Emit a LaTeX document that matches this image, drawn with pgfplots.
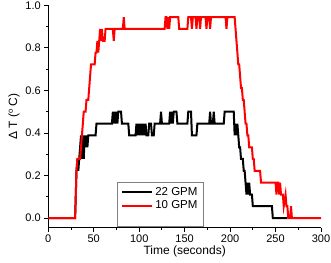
\documentclass[border=0pt]{standalone}
\usepackage{pgfplots}
\pgfplotsset{compat=1.18}
\usepackage{fontspec}
\setmainfont{Liberation Sans}
\begin{document}
\begin{tikzpicture}
\begin{axis}[
  scale only axis,
  width=272.7pt, height=222.4pt,
  xmin=0, xmax=300, ymin=-0.045, ymax=1.0,
  axis x line=bottom, axis y line=left,
  axis line style={-, line width=1pt},
  tick align=outside,
  major tick length=4pt, minor tick length=2.2pt,
  every tick/.style={black, line width=0.9pt},
  xtick={0,50,...,300}, minor x tick num=1,
  ytick={0,0.2,0.4,0.6,0.8,1.0}, minor y tick num=1,
  /pgf/number format/assume math mode=true,
  yticklabel style={/pgf/number format/.cd, fixed, fixed zerofill, precision=1},
  ticklabel style={font=\fontsize{11}{13}\selectfont},
  xlabel={Time (seconds)},
  ylabel={Δ T (\raisebox{0.35em}{\fontsize{7.5}{8}\selectfont o} C)},
  label style={font=\fontsize{12}{14}\selectfont},
  xlabel style={yshift=4pt},
  ylabel style={yshift=-1pt},
  legend style={at={(rel axis cs:0.252,0.2055)}, anchor=north west,
    draw=gray, line width=0.6pt, font=\fontsize{11.5}{13}\selectfont,
    row sep=0pt, inner xsep=4pt, inner ysep=3pt},
  legend cell align=left,
  legend image code/.code={\draw[#1] (0pt,0pt) -- (30pt,0pt);},
]
\addplot[black, line width=2pt] coordinates {
(0,0) (29.5,0) (31,0.222) (32,0.278) (33,0.222) (34,0.278) (35,0.333) (36,0.389) (37,0.278) (38,0.389) (39,0.278) (40,0.389) (41,0.333) (42,0.389) (43,0.333) (44,0.389) (52,0.389) (53,0.444) (70,0.444) (71,0.5) (72,0.444) (73,0.5) (74,0.444) (75,0.5) (76,0.444) (77,0.5) (80,0.5) (81,0.444) (88,0.444) (89,0.389) (96,0.389) (97,0.444) (98,0.389) (99,0.444) (100,0.389) (101,0.444) (102,0.389) (103,0.444) (104,0.389) (105,0.444) (106,0.389) (107,0.444) (108,0.389) (110,0.389) (111,0.444) (113,0.444) (114,0.389) (116,0.389) (117,0.444) (123,0.444) (124,0.5) (125,0.444) (133,0.444) (134,0.5) (135,0.444) (136,0.5) (137,0.444) (138,0.5) (141,0.5) (142,0.444) (153,0.444) (154,0.5) (157,0.5) (158,0.389) (163,0.389) (164,0.444) (177,0.444) (178,0.5) (179,0.444) (181,0.444) (182,0.5) (183,0.444) (193,0.444) (194,0.5) (204,0.5) (205,0.389) (206,0.444) (207,0.389) (208,0.444) (209,0.389) (210,0.333) (211,0.333) (212,0.278) (214,0.278) (215,0.222) (216,0.222) (217,0.167) (218,0.111) (219,0.167) (220,0.111) (221,0.167) (222,0.111) (224,0.111) (225,0.056) (246,0.056) (247,0) (263,0)
};
\addlegendentry{22 GPM}
\addplot[red, line width=2pt] coordinates {
(0,0) (29.5,0) (31,0.222) (32,0.278) (35,0.278) (36,0.333) (37,0.389) (38,0.444) (39,0.5) (41,0.5) (42,0.556) (44,0.556) (45,0.611) (46,0.667) (47,0.722) (51,0.722) (52,0.778) (53,0.778) (54,0.833) (55,0.778) (56,0.833) (57,0.889) (58,0.833) (59,0.889) (60,0.833) (62,0.833) (63,0.889) (71,0.889) (72,0.833) (73,0.889) (82,0.889) (83,0.944) (84,0.889) (128,0.889) (129,0.944) (130,0.944) (131,0.889) (132,0.944) (133,0.889) (134,0.944) (143,0.944) (144,0.889) (153,0.889) (154,0.944) (157,0.944) (158,0.889) (159,0.944) (162,0.944) (163,0.889) (164,0.944) (166,0.944) (167,0.889) (168,0.944) (173,0.944) (174,0.889) (175,0.944) (177,0.944) (178,0.889) (179,0.944) (195,0.944) (196,0.889) (197,0.944) (205,0.944) (206,0.889) (207,0.833) (208,0.778) (209,0.722) (210,0.722) (211,0.667) (212,0.611) (213,0.611) (214,0.556) (215,0.556) (216,0.5) (217,0.444) (218,0.444) (219,0.389) (220,0.389) (221,0.333) (224,0.333) (225,0.278) (226,0.278) (227,0.222) (233,0.222) (234,0.167) (250,0.167) (251,0.111) (252,0.167) (253,0.167) (254,0.111) (255,0.167) (256,0.111) (258,0.111) (259,0.056) (261,0.111) (262,0.056) (263,0.056) (264,0) (266,0) (267,0.056) (268,0) (300,0)
};
\addlegendentry{10 GPM}
\addlegendimage{empty legend}
\addlegendentry{\rule{0pt}{5pt}}
\end{axis}
\pgfresetboundingbox
\path[use as bounding box] (-48.3pt,-34.3pt) rectangle (282.7pt,227.7pt);
\end{tikzpicture}
\end{document}
